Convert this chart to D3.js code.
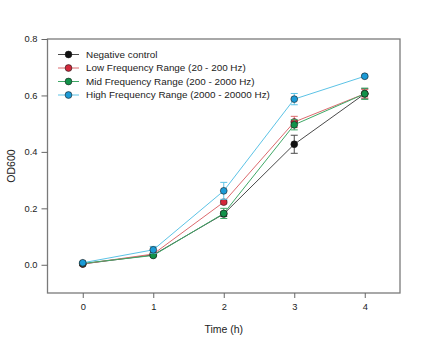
<!DOCTYPE html>
<html>
<head>
<meta charset="utf-8">
<script src="https://cdn.jsdelivr.net/npm/d3@7"></script>
<style>
  body { margin: 0; background: #fff; }
  svg text { font-family: "Liberation Sans", Arial, sans-serif; fill: #222; }
</style>
</head>
<body>
<script>
var hours = [0, 1, 2, 3, 4];
var yTicks = [0.0, 0.2, 0.4, 0.6, 0.8];

var seriesNames = [
    "Negative control",
    "Low Frequency Range (20 - 200 Hz)",
    "Mid Frequency Range (200 - 2000 Hz)",
    "High Frequency Range (2000 - 20000 Hz)"
];

var negativeMean = [0.003, 0.035, 0.180, 0.427, 0.606];
var negativeErr  = [0.003, 0.004, 0.008, 0.032, 0.018];
var lowMean      = [0.003, 0.038, 0.222, 0.506, 0.606];
var lowErr       = [0.002, 0.004, 0.006, 0.020, 0.015];
var midMean      = [0.005, 0.033, 0.182, 0.496, 0.606];
var midErr       = [0.002, 0.004, 0.018, 0.018, 0.020];
var highMean     = [0.007, 0.053, 0.262, 0.587, 0.668];
var highErr      = [0.003, 0.012, 0.030, 0.020, 0.004];

var lineColors = ["#4a4a4a", "#dc6a6e", "#3fa866", "#5cc3e6"];
var dotColors  = ["#111111", "#d3283a", "#12924a", "#1b9bd7"];

var series = [
    { name: seriesNames[0], mean: negativeMean, err: negativeErr },
    { name: seriesNames[1], mean: lowMean, err: lowErr },
    { name: seriesNames[2], mean: midMean, err: midErr },
    { name: seriesNames[3], mean: highMean, err: highErr }
];

var width = 422, height = 340;
var margin = { left: 47.5, right: 22, top: 39, bottom: 47 };

var svg = d3.select("body").append("svg")
    .attr("width", width)
    .attr("height", height);

var x = d3.scaleLinear()
    .domain([-0.5, 4.5])
    .range([margin.left, width - margin.right]);

var y = d3.scaleLinear()
    .domain([-0.1, 0.8])
    .range([height - margin.bottom, margin.top]);

// frame
svg.append("rect")
    .attr("x", x.range()[0])
    .attr("y", y.range()[1])
    .attr("width", x.range()[1] - x.range()[0])
    .attr("height", y.range()[0] - y.range()[1])
    .attr("fill", "none")
    .attr("stroke", "#7a7a7a")
    .attr("stroke-width", 1.3);

var xAxis = svg.append("g")
    .attr("transform", "translate(0," + y.range()[0] + ")")
    .call(d3.axisBottom(x).tickValues(hours).tickFormat(d3.format("d")).tickSize(5).tickPadding(5));

var yAxis = svg.append("g")
    .attr("transform", "translate(" + x.range()[0] + ",0)")
    .call(d3.axisLeft(y).tickValues(yTicks).tickFormat(d3.format(".1f")).tickSize(6).tickPadding(4));

[xAxis, yAxis].forEach(function (g) {
    g.select(".domain").remove();
    g.selectAll(".tick line").attr("stroke", "#666");
    g.selectAll(".tick text").style("font-size", "9.3px").attr("fill", "#222");
});

svg.append("text")
    .attr("x", (x.range()[0] + x.range()[1]) / 2)
    .attr("y", 333)
    .attr("text-anchor", "middle")
    .style("font-size", "10.5px")
    .text("Time (h)");

svg.append("text")
    .attr("transform", "translate(15," + ((y.range()[0] + y.range()[1]) / 2) + ") rotate(-90)")
    .attr("text-anchor", "middle")
    .style("font-size", "10.5px")
    .text("OD600");

var line = d3.line()
    .x(function (d, i) { return x(hours[i]); })
    .y(function (d) { return y(d); });

var groups = svg.selectAll(".series")
    .data(series)
    .enter().append("g")
    .attr("class", "series");

groups.append("path")
    .attr("d", function (d) { return line(d.mean); })
    .attr("fill", "none")
    .attr("stroke", function (d, i) { return lineColors[i]; })
    .attr("stroke-width", 1);

groups.each(function (s, si) {
    var g = d3.select(this);
    var pts = s.mean.map(function (m, i) { return { x: hours[i], m: m, e: s.err[i] }; });

    var eb = g.selectAll(".err").data(pts).enter().append("g").attr("class", "err")
        .attr("stroke", lineColors[si]).attr("stroke-width", 1);
    eb.append("line")
        .attr("x1", function (d) { return x(d.x); })
        .attr("x2", function (d) { return x(d.x); })
        .attr("y1", function (d) { return y(d.m - d.e); })
        .attr("y2", function (d) { return y(d.m + d.e); });
    [-1, 1].forEach(function (sign) {
        eb.append("line")
            .attr("x1", function (d) { return x(d.x) - 3.5; })
            .attr("x2", function (d) { return x(d.x) + 3.5; })
            .attr("y1", function (d) { return y(d.m + sign * d.e); })
            .attr("y2", function (d) { return y(d.m + sign * d.e); });
    });

    g.selectAll(".dot").data(pts).enter().append("circle")
        .attr("class", "dot")
        .attr("cx", function (d) { return x(d.x); })
        .attr("cy", function (d) { return y(d.m); })
        .attr("r", 3.4)
        .attr("fill", dotColors[si])
        .attr("stroke", "#1a1a1a")
        .attr("stroke-width", 0.6);
});

// legend
var legend = svg.append("g")
    .attr("transform", "translate(58,54.5)");

var rows = legend.selectAll(".row")
    .data(series)
    .enter().append("g")
    .attr("transform", function (d, i) { return "translate(0," + (i * 13.5) + ")"; });

rows.append("line")
    .attr("x1", 0).attr("x2", 21)
    .attr("stroke", function (d, i) { return lineColors[i]; })
    .attr("stroke-width", 1);

rows.append("circle")
    .attr("cx", 10.5)
    .attr("r", 3.4)
    .attr("fill", function (d, i) { return dotColors[i]; })
    .attr("stroke", "#1a1a1a")
    .attr("stroke-width", 0.6);

rows.append("text")
    .attr("x", 28)
    .attr("dy", "0.35em")
    .style("font-size", "9.9px")
    .text(function (d) { return d.name; });
</script>
</body>
</html>
